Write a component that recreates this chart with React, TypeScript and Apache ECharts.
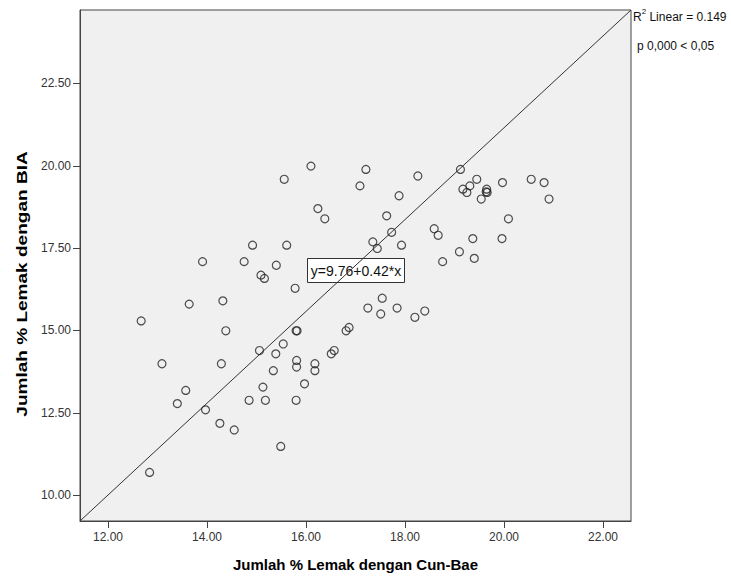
import React, { useEffect, useRef } from "react";
import * as echarts from "echarts";

// Jumlah % Lemak dengan Cun-Bae (x) and dengan BIA (y)
const cunBae = [
  16.10, 15.56, 17.09, 16.24, 16.38, 14.92, 15.61, 13.91, 14.75, 15.40,
  15.09, 15.16, 15.78, 13.64, 14.32, 12.67, 14.38, 15.80, 15.82, 16.81,
  16.87, 15.54, 15.06, 15.39, 15.81, 15.81, 16.18, 16.18, 16.51, 16.57,
  15.34, 13.09, 14.29, 13.57, 13.40, 13.97, 15.13, 15.97, 14.85, 15.18,
  15.80, 14.26, 14.55, 15.49, 12.84, 17.21, 18.26, 17.88, 19.12, 19.45,
  19.31, 19.17, 19.25, 19.65, 19.64, 19.66, 19.54, 19.97, 20.55, 20.81,
  20.91, 17.63, 20.09, 17.73, 18.59, 18.67, 17.35, 17.44, 17.93, 19.37,
  19.96, 19.10, 19.40, 18.76, 17.54, 17.25, 17.51, 17.84, 18.20, 18.40,
];
const bia = [
  19.99, 19.59, 19.39, 18.70, 18.39, 17.59, 17.59, 17.09, 17.09, 16.98,
  16.68, 16.58, 16.28, 15.80, 15.90, 15.29, 14.99, 14.99, 14.99, 14.99,
  15.09, 14.59, 14.39, 14.29, 14.09, 13.89, 13.99, 13.78, 14.29, 14.39,
  13.78, 13.99, 13.99, 13.18, 12.78, 12.59, 13.28, 13.38, 12.88, 12.88,
  12.88, 12.18, 11.98, 11.48, 10.69, 19.89, 19.69, 19.09, 19.89, 19.59,
  19.39, 19.29, 19.19, 19.29, 19.21, 19.19, 18.99, 19.49, 19.59, 19.49,
  18.99, 18.48, 18.39, 17.98, 18.09, 17.89, 17.69, 17.49, 17.59, 17.79,
  17.79, 17.39, 17.19, 17.09, 15.98, 15.68, 15.50, 15.68, 15.40, 15.59,
];

const xTicks = [12, 14, 16, 18, 20, 22];
const yTicks = [10, 12.5, 15, 17.5, 20, 22.5];
const xRange = [11.434, 22.566];
const yRange = [9.215, 24.73];

const xTitle = "Jumlah % Lemak dengan Cun-Bae";
const yTitle = "Jumlah % Lemak dengan BIA";
const r2Text = "0.149";
const pText = "p 0,000 < 0,05";
const fitText = "y=9.76+0.42*x";

const FONT = "'Liberation Sans', Arial, sans-serif";

export default function App() {
  const ref = useRef<HTMLDivElement>(null);
  useEffect(() => {
    if (!ref.current) return;
    const chart = echarts.init(ref.current, null, { renderer: "svg" });
    const points = cunBae.map((x, i) => [x, bia[i]]);
    chart.setOption({
      animation: false,
      backgroundColor: "#ffffff",
      textStyle: { fontFamily: FONT },
      grid: {
        left: 80,
        right: 100,
        top: 10,
        bottom: 53,
        show: true,
        backgroundColor: "#f0f0f0",
        borderColor: "#444",
        borderWidth: 1,
      },
      xAxis: {
        type: "value",
        min: xRange[0],
        max: xRange[1],
        name: xTitle,
        nameLocation: "middle",
        nameGap: 36,
        nameTextStyle: { fontFamily: FONT, fontSize: 15, fontWeight: "bold", color: "#000" },
        axisLine: { show: true, lineStyle: { color: "#444", width: 1 } },
        axisTick: { show: true, length: 7, customValues: xTicks, lineStyle: { color: "#444" } },
        axisLabel: {
          customValues: xTicks,
          margin: 10,
          fontSize: 12,
          color: "#333",
          fontFamily: FONT,
          formatter: (v: number) => v.toFixed(2),
        },
        splitLine: { show: false },
      },
      yAxis: {
        type: "value",
        min: yRange[0],
        max: yRange[1],
        axisLine: { show: true, lineStyle: { color: "#444", width: 1 } },
        axisTick: { show: true, length: 7, customValues: yTicks, lineStyle: { color: "#444" } },
        axisLabel: {
          customValues: yTicks,
          margin: 9,
          fontSize: 12,
          color: "#333",
          fontFamily: FONT,
          formatter: (v: number) => v.toFixed(2),
        },
        splitLine: { show: false },
      },
      series: [
        {
          type: "line",
          data: [
            [xRange[0], yRange[0]],
            [xRange[1], yRange[1]],
          ],
          showSymbol: false,
          symbol: "none",
          lineStyle: { color: "#333", width: 1 },
          silent: true,
          z: 1,
        },
        {
          type: "scatter",
          data: points,
          symbol: "circle",
          symbolSize: 8,
          itemStyle: { color: "rgba(0,0,0,0)", borderColor: "#222", borderWidth: 1.2 },
          z: 3,
        },
      ],
      graphic: [
        {
          type: "text",
          x: 22,
          y: 284,
          rotation: Math.PI / 2,
          scaleX: 1.27,
          style: {
            text: yTitle,
            fontFamily: FONT,
            fontSize: 15,
            fontWeight: "bold",
            fill: "#000",
            align: "center",
            verticalAlign: "middle",
          },
        },
        {
          type: "group",
          left: 307,
          top: 258,
          z: 10,
          children: [
            {
              type: "rect",
              shape: { x: 0, y: 0, width: 97, height: 24 },
              style: { fill: "#ffffff", stroke: "#333", lineWidth: 1 },
            },
            {
              type: "text",
              x: 48.5,
              y: 12,
              style: {
                text: fitText,
                fontFamily: FONT,
                fontSize: 14,
                fill: "#111",
                align: "center",
                verticalAlign: "middle",
              },
            },
          ],
        },
        {
          type: "text",
          left: 633,
          top: 7,
          style: {
            text: "{r|R}{sup|2}{r| Linear = " + r2Text + "}",
            rich: {
              r: { fontFamily: FONT, fontSize: 12, fill: "#111", verticalAlign: "bottom", lineHeight: 16 },
              sup: { fontFamily: FONT, fontSize: 8, fill: "#111", verticalAlign: "top", lineHeight: 16, padding: [0, 0, 6, 0] },
            },
          },
        },
        {
          type: "text",
          left: 637,
          top: 40,
          style: { text: pText, fontFamily: FONT, fontSize: 12, fill: "#111" },
        },
      ],
    });
    return () => chart.dispose();
  }, []);
  return (
    <div
      ref={ref}
      style={{ position: "fixed", left: 0, top: 0, width: 731, height: 577 }}
    />
  );
}
